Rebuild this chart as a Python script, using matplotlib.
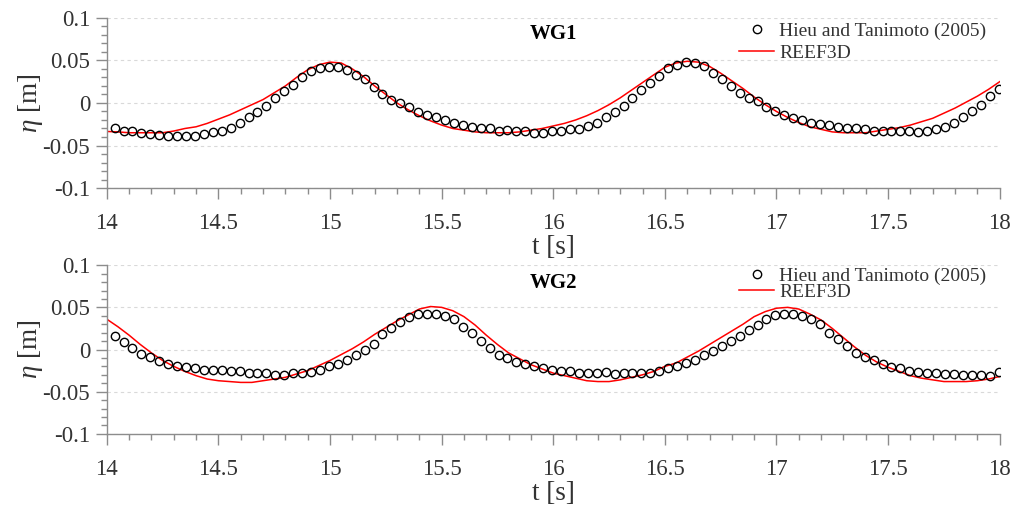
import numpy as np
import matplotlib
matplotlib.use("Agg")
import matplotlib.pyplot as plt
from matplotlib.ticker import MultipleLocator

plt.rcParams['font.family'] = ['Liberation Serif', 'DejaVu Serif']
plt.rcParams['mathtext.fontset'] = 'custom'
plt.rcParams['mathtext.rm'] = 'Liberation Serif'
plt.rcParams['mathtext.it'] = 'Liberation Serif:italic'

# --- measured data (Hieu and Tanimoto 2005), sampled every 0.04 s ---
t_obs = np.round(np.arange(14.035, 18.0, 0.04), 3)

wg1_obs = [
    -0.030, -0.033, -0.033, -0.035, -0.037, -0.038, -0.039, -0.039, -0.039, -0.039,
    -0.037, -0.034, -0.033, -0.029, -0.023, -0.017, -0.011, -0.004, 0.006, 0.014,
    0.021, 0.030, 0.037, 0.041, 0.042, 0.042, 0.039, 0.033, 0.028, 0.019,
    0.011, 0.004, 0.000, -0.005, -0.011, -0.014, -0.017, -0.020, -0.023, -0.026,
    -0.028, -0.029, -0.030, -0.033, -0.032, -0.033, -0.033, -0.035, -0.035, -0.033,
    -0.033, -0.031, -0.031, -0.027, -0.023, -0.017, -0.011, -0.004, 0.006, 0.015,
    0.023, 0.032, 0.041, 0.045, 0.048, 0.047, 0.043, 0.035, 0.028, 0.020,
    0.012, 0.006, 0.002, -0.005, -0.010, -0.014, -0.018, -0.020, -0.024, -0.025,
    -0.026, -0.028, -0.029, -0.030, -0.031, -0.033, -0.033, -0.033, -0.033, -0.033,
    -0.034, -0.033, -0.031, -0.028, -0.023, -0.017, -0.010, -0.002, 0.008, 0.017,
]

wg2_obs = [
    0.016, 0.009, 0.002, -0.005, -0.009, -0.014, -0.017, -0.020, -0.021, -0.022,
    -0.024, -0.024, -0.024, -0.026, -0.026, -0.028, -0.028, -0.028, -0.030, -0.030,
    -0.028, -0.028, -0.027, -0.024, -0.020, -0.017, -0.012, -0.006, -0.001, 0.007,
    0.018, 0.025, 0.033, 0.039, 0.042, 0.042, 0.042, 0.040, 0.036, 0.027,
    0.020, 0.010, 0.002, -0.006, -0.010, -0.015, -0.017, -0.020, -0.022, -0.024,
    -0.026, -0.026, -0.028, -0.028, -0.028, -0.027, -0.029, -0.028, -0.028, -0.028,
    -0.028, -0.025, -0.022, -0.020, -0.016, -0.013, -0.007, -0.002, 0.004, 0.010,
    0.016, 0.023, 0.029, 0.036, 0.041, 0.042, 0.042, 0.040, 0.036, 0.030,
    0.020, 0.013, 0.004, -0.004, -0.009, -0.013, -0.017, -0.021, -0.022, -0.025,
    -0.027, -0.028, -0.028, -0.029, -0.029, -0.030, -0.030, -0.030, -0.031, -0.027,
]

# --- REEF3D, read every 0.05 s ---
t_num = np.round(np.arange(14.0, 18.001, 0.05), 2)

wg1_num = [
    -0.0335, -0.034, -0.035, -0.035, -0.035, -0.035, -0.033, -0.030, -0.028, -0.024,
    -0.019, -0.014, -0.008, -0.002, 0.004, 0.012, 0.020, 0.030, 0.039, 0.045,
    0.048, 0.047, 0.040, 0.031, 0.020, 0.010, 0.000, -0.008, -0.015, -0.021,
    -0.026, -0.030, -0.032, -0.034, -0.035, -0.035, -0.035, -0.034, -0.032, -0.030,
    -0.027, -0.024, -0.020, -0.015, -0.009, -0.002, 0.006, 0.015, 0.024, 0.033,
    0.042, 0.047, 0.049, 0.048, 0.043, 0.035, 0.026, 0.017, 0.007, -0.002,
    -0.010, -0.017, -0.023, -0.028, -0.031, -0.034, -0.035, -0.035, -0.035, -0.033,
    -0.031, -0.029, -0.026, -0.022, -0.018, -0.012, -0.006, 0.001, 0.008, 0.016,
    0.025,
]

wg2_num = [
    0.036, 0.027, 0.017, 0.006, -0.004, -0.013, -0.020, -0.026, -0.031, -0.035,
    -0.037, -0.038, -0.039, -0.039, -0.037, -0.035, -0.033, -0.029, -0.025, -0.019,
    -0.013, -0.006, 0.001, 0.009, 0.018, 0.026, 0.034, 0.041, 0.048, 0.051,
    0.050, 0.046, 0.039, 0.029, 0.017, 0.006, -0.004, -0.011, -0.018, -0.023,
    -0.028, -0.031, -0.034, -0.037, -0.038, -0.038, -0.036, -0.033, -0.030, -0.026,
    -0.020, -0.016, -0.009, -0.002, 0.006, 0.014, 0.022, 0.030, 0.039, 0.045,
    0.049, 0.050, 0.048, 0.042, 0.035, 0.025, 0.014, 0.003, -0.007, -0.015,
    -0.021, -0.026, -0.031, -0.034, -0.036, -0.038, -0.038, -0.038, -0.037, -0.035,
    -0.032,
]

# name, measured, numerical, axes rect, title y, legend row spacing, legend top
panels = [
    ("WG1", wg1_obs, wg1_num, [0.105, 0.632, 0.878, 0.333], 0.905, 0.25, 0.975),
    ("WG2", wg2_obs, wg2_num, [0.105, 0.151, 0.878, 0.330], 0.893, -0.05, 0.99),
]

fig = plt.figure(figsize=(10.17, 5.11), dpi=100)
axis_grey = '#8c8c8c'
text_col = '#333333'

for name, obs, num, rect, title_y, leg_spacing, leg_top in panels:
    ax = fig.add_axes(rect)
    ax.plot(t_obs, obs, 'o', mfc='none', mec='black', ms=6.0, mew=1.0,
            label='Hieu and Tanimoto (2005)', zorder=3)
    ax.plot(t_num, num, color='red', lw=1.1, label='REEF3D', zorder=2)

    ax.set_xlim(14, 18)
    ax.set_ylim(-0.1, 0.1)
    ax.xaxis.set_minor_locator(MultipleLocator(0.1))
    ax.yaxis.set_minor_locator(MultipleLocator(0.01))
    ax.set_xticks([14, 14.5, 15, 15.5, 16, 16.5, 17, 17.5, 18])
    ax.set_xticklabels(['14', '14.5', '15', '15.5', '16', '16.5', '17', '17.5', '18'])
    ax.set_yticks([-0.1, -0.05, 0, 0.05, 0.1])
    ax.set_yticklabels(['-0.1', '-0.05', '0', '0.05', '0.1'])

    for s in ['top', 'right']:
        ax.spines[s].set_visible(False)
    for s in ['left', 'bottom']:
        ax.spines[s].set_color(axis_grey)
        ax.spines[s].set_linewidth(1.0)
    ax.tick_params(which='major', direction='out', length=8, width=1.0,
                   color=axis_grey, labelsize=16.5, labelcolor=text_col, pad=4)
    ax.tick_params(which='minor', direction='out', length=4, width=1.0, color=axis_grey)
    ax.tick_params(axis='x', which='major', pad=10)

    ax.grid(axis='y', which='major', color='#d9d9d9', linestyle=(0, (3, 3)), lw=0.8)
    ax.set_axisbelow(True)

    ax.set_xlabel('t [s]', fontsize=19.5, color=text_col, labelpad=1)
    ax.set_ylabel(r'$\eta$ [m]', fontsize=19.5, color=text_col, labelpad=-2)

    ax.text(0.5, title_y, name, transform=ax.transAxes, ha='center', va='center',
            fontsize=15, fontweight='bold', color='black')

    ax.legend(loc='upper right', bbox_to_anchor=(0.985, leg_top), frameon=False,
              fontsize=14, numpoints=1, handlelength=1.8, handletextpad=0.25,
              labelspacing=leg_spacing, borderpad=0, borderaxespad=0,
              labelcolor=text_col)

fig.savefig('out.png', dpi=100)
